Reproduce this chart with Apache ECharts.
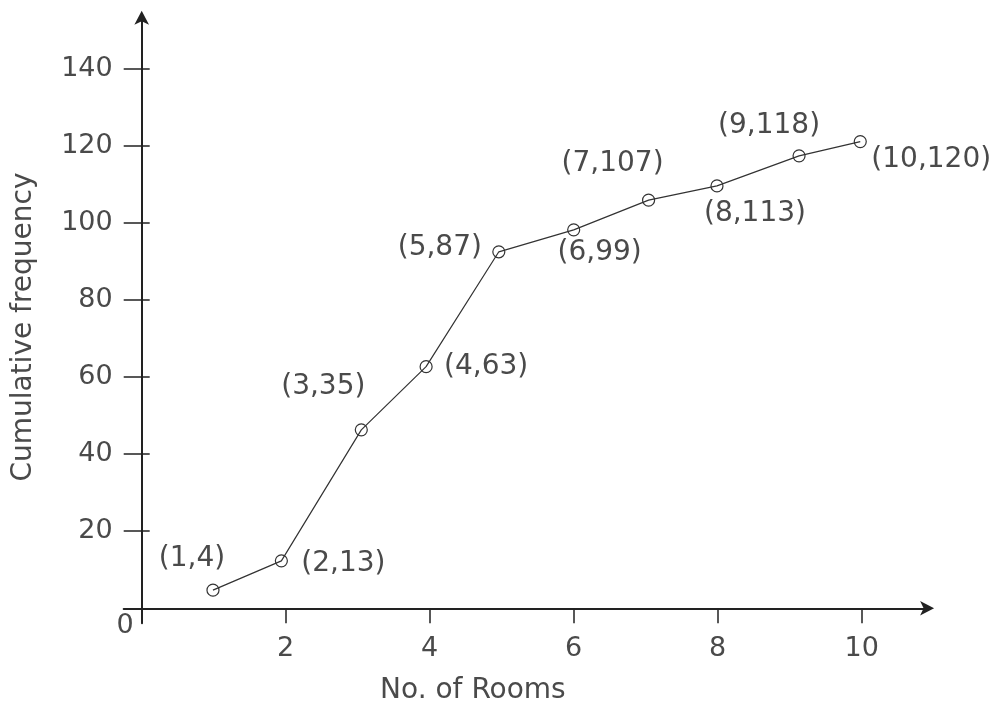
<!DOCTYPE html>
<html>
<head>
<meta charset="utf-8">
<script src="https://cdn.jsdelivr.net/npm/echarts@6/dist/echarts.min.js"></script>
<style>
html,body{margin:0;padding:0;background:#fff;}
#chart{width:997px;height:708px;}
</style>
</head>
<body>
<div id="chart"></div>
<script>
// ---- data ----
const rooms = [0.99, 1.94, 3.05, 3.95, 4.96, 6.00, 7.04, 7.99, 9.13, 9.98];
const cumFreq = [4.7, 12.3, 46.3, 62.7, 92.5, 98.2, 105.9, 109.6, 117.4, 121.1];
const pointLabels = ['(1,4)', '(2,13)', '(3,35)', '(4,63)', '(5,87)', '(6,99)', '(7,107)', '(8,113)', '(9,118)', '(10,120)'];
const xTicks = [2, 4, 6, 8, 10];
const yTicks = [20, 40, 60, 80, 100, 120, 140];
const xName = 'No. of Rooms';
const yName = 'Cumulative frequency';

// ---- styling ----
const labelOffsets = [[-21, -31], [62, 3], [-38, -43], [60, 0], [-59, -4], [26, 23], [-36, -36], [38, 28], [-30, -30], [71, 18]];
const FONT = 'DejaVu Sans';
const FS = 28;
const FST = 27;
const TXT = '#4a4a4a';
const AX = '#222';

const chart = echarts.init(document.getElementById('chart'), null, {renderer: 'canvas'});

const seriesData = rooms.map((x, i) => ({
  value: [x, cumFreq[i]],
  label: {show: true, position: 'inside', offset: labelOffsets[i], formatter: pointLabels[i]}
}));

const option = {
  backgroundColor: '#fff',
  animation: false,
  grid: {left: 123.7, top: 14.8, width: 806.4, height: 608.5, containLabel: false, outerBoundsMode: 'none'},
  xAxis: {
    type: 'value', min: -0.25, max: 10.95,
    splitLine: {show: false},
    axisLine: {show: true, onZero: true, lineStyle: {color: AX, width: 2}, symbol: ['none', 'arrow'], symbolSize: [11, 14], symbolOffset: [0, 4]},
    axisTick: {show: true, inside: false, length: 15, lineStyle: {color: AX, width: 1.5}, customValues: xTicks},
    axisLabel: {show: true, margin: 12, color: TXT, fontFamily: FONT, fontSize: FST, customValues: xTicks},
    name: xName, nameLocation: 'middle', nameGap: 53,
    nameTextStyle: {color: TXT, fontFamily: FONT, fontSize: FS, padding: [0, 108, 0, 0]}
  },
  yAxis: [{
    type: 'value', min: -3.9, max: 154, position: 'left',
    splitLine: {show: false},
    axisLine: {show: true, onZero: true, lineStyle: {color: AX, width: 2}, symbol: ['none', 'arrow'], symbolSize: [11, 14], symbolOffset: [0, 4]},
    axisTick: {show: true, inside: false, length: 18, lineStyle: {color: AX, width: 1.5}, customValues: yTicks},
    axisLabel: {
      show: true, margin: -10, color: TXT, fontFamily: FONT, fontSize: FST,
      customValues: [0].concat(yTicks),
      formatter: v => v === 0 ? '{z|0}' : '{n|' + v + '}',
      rich: {
        n: {color: TXT, fontFamily: FONT, fontSize: FST, padding: [0, 21, 0, 0]},
        z: {color: TXT, fontFamily: FONT, fontSize: FST, padding: [36, 0, 0, 0]}
      }
    },
    name: yName, nameLocation: 'middle', nameGap: 86,
    nameTextStyle: {color: TXT, fontFamily: FONT, fontSize: FS, padding: [0, 16, 0, 0]}
  }, {
    type: 'value', min: -3.9, max: 154, position: 'left', offset: -18,
    splitLine: {show: false},
    axisLine: {show: false, onZero: false},
    axisTick: {show: true, inside: true, length: 8, lineStyle: {color: AX, width: 1.5}, customValues: yTicks},
    axisLabel: {show: false}
  }],
  series: [{
    type: 'line',
    xAxisIndex: 0, yAxisIndex: 0,
    data: seriesData,
    symbol: 'circle',
    symbolSize: 12,
    lineStyle: {color: '#333', width: 1.2},
    itemStyle: {color: 'rgba(255,255,255,0)', borderColor: '#333', borderWidth: 1.2},
    label: {color: TXT, fontFamily: FONT, fontSize: FS},
    z: 3
  }]
};
chart.setOption(option);
</script>
</body>
</html>
